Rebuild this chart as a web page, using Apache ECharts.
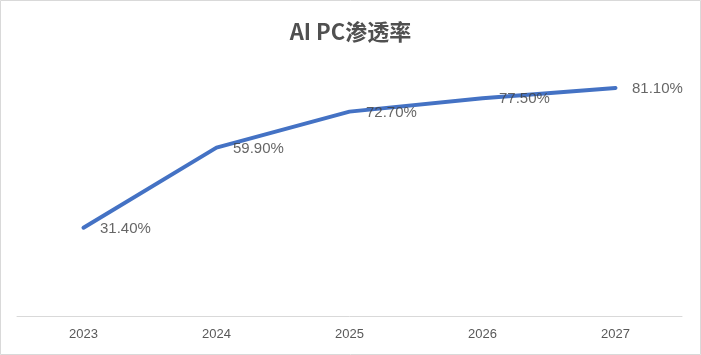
<!DOCTYPE html>
<html><head><meta charset="utf-8">
<script src="https://cdn.jsdelivr.net/npm/echarts@6/dist/echarts.min.js"></script>
<style>html,body{margin:0;padding:0;background:#fff}#c{width:701px;height:355px}</style>
</head><body><div id="c"></div>
<script>
const title = 'AI PC渗透率';
const categories = ['2023', '2024', '2025', '2026', '2027'];
const penetration = [31.4, 59.9, 72.7, 77.5, 81.1];

const chart = echarts.init(document.getElementById('c'), null, {renderer: 'canvas'});
chart.setOption({
  animation: false,
  backgroundColor: '#fff',
  title: {
    text: title, left: 'center', top: 16,
    textStyle: {fontFamily: '"Noto Sans CJK SC", sans-serif', fontSize: 22, fontWeight: 'bold', color: '#505050'}
  },
  graphic: [{type: 'rect', shape: {x: 0.5, y: 0.5, width: 700, height: 354}, style: {fill: 'none', stroke: '#d9d9d9', lineWidth: 1}, silent: true, z: -1}],
  grid: {left: 17, right: 19, top: 63, bottom: 39},
  xAxis: {
    type: 'category', data: categories, boundaryGap: true,
    axisLine: {lineStyle: {color: '#d9d9d9', width: 1}},
    axisTick: {show: false},
    axisLabel: {color: '#595959', fontSize: 13, fontFamily: '"Liberation Sans", sans-serif', margin: 12}
  },
  yAxis: {
    type: 'value', min: 0, max: 90, interval: 10,
    show: false, splitLine: {show: false}
  },
  series: [{
    type: 'line', data: penetration, symbol: 'none',
    lineStyle: {color: '#4472C4', width: 4, cap: 'round'},
    z: 2
  }, {
    type: 'scatter', data: penetration, symbolSize: 1,
    itemStyle: {color: 'rgba(0,0,0,0)'},
    z: 3,
    label: {
      show: true, position: 'right', distance: 16, offset: [0, 1],
      formatter: p => p.value.toFixed(2) + '%',
      color: '#404040', fontSize: 15, fontFamily: '"Liberation Sans", sans-serif'
    }
  }]
});
</script></body></html>
